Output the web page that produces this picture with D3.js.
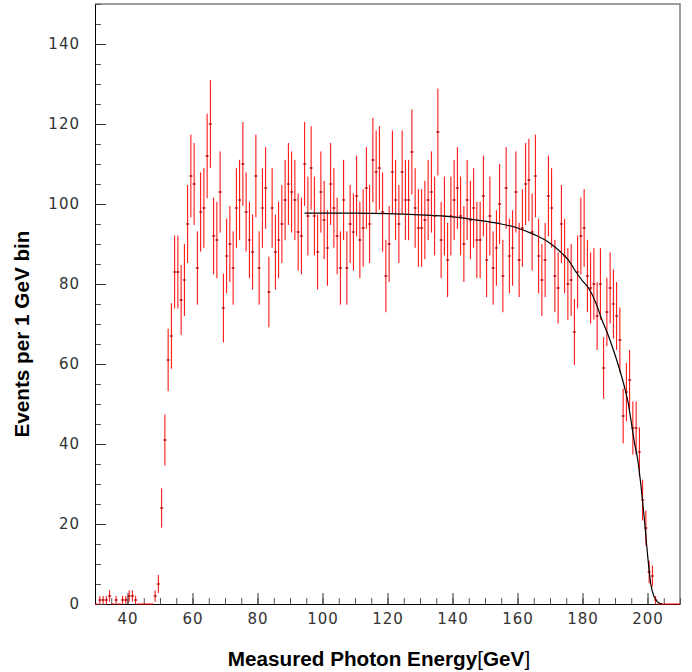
<!DOCTYPE html>
<html lang="en">
<head>
    <meta charset="UTF-8">
    <title>Measured Photon Energy</title>
    <script src="https://d3js.org/d3.v7.min.js"></script>
    <style>
        body { margin: 0; background: #fff; }
        .tick text { font-family: "DejaVu Sans", sans-serif; font-size: 15px; letter-spacing: 1px; fill: #333; }
        .title { font-family: "Liberation Sans", Arial, sans-serif; font-size: 20.7px; font-weight: bold; }
    </style>
</head>
<body>
    <div id="chart"></div>

    <script>
        // events per 1 GeV bin, bins start at 30 GeV
        var binStart = 30;
        var counts = [
            0, 1, 1, 1, 2, 0, 1, 0, 1, 1,
            2, 2, 1, 0, 0, 0, 0, 0, 2, 5,
            24, 41, 61, 67, 83, 83, 76, 81, 95, 107,
            105, 84, 98, 99, 112, 120, 92, 91, 103, 74,
            87, 90, 84, 99, 101, 110, 98, 91, 88, 107,
            84, 99, 104, 78, 99, 88, 91, 95, 101, 105,
            103, 101, 93, 92, 110, 97, 109, 97, 88, 103,
            96, 89, 105, 99, 92, 84, 101, 84, 95, 93,
            102, 91, 94, 104, 95, 111, 108, 109, 98, 82,
            90, 108, 101, 95, 108, 101, 101, 113, 99, 94,
            94, 96, 101, 103, 97, 118, 91, 97, 86, 97,
            101, 104, 97, 90, 101, 96, 99, 91, 91, 102,
            86, 97, 84, 89, 100, 82, 104, 87, 89, 103,
            86, 94, 105, 106, 93, 107, 87, 81, 86, 102,
            99, 82, 79, 95, 87, 80, 81, 68, 83, 92,
            94, 82, 79, 80, 72, 80, 59, 73, 79, 75,
            72, 66, 47, 53, 56, 44, 44, 38, 26, 19,
            8, 7, 1, 0, 0, 0, 0, 0, 0, 0
        ];

        // fitted curve
        var fitEnergy = [94.5, 110, 120, 130, 140, 145, 150, 155, 160, 165, 170, 173, 176, 178, 180, 182, 184, 186, 188, 190, 192, 193, 194, 195, 196, 197, 198, 199, 200, 201, 202, 203, 204.4];
        var fitValue = [97.7, 97.7, 97.6, 97.3, 96.8, 96.3, 95.7, 95.0, 94.0, 92.4, 90.2, 88.2, 85.6, 83.0, 80.8, 78.8, 75.5, 71.0, 67.0, 62.3, 57.0, 54.0, 50.5, 45.5, 40.3, 36.0, 29.5, 21.5, 12.5, 5.0, 1.9, 0.6, 0];

        var xTicks = [40, 60, 80, 100, 120, 140, 160, 180, 200];
        var yTicks = [0, 20, 40, 60, 80, 100, 120, 140];

        var w = 692;
        var h = 672;
        var svg = d3.select("#chart").append("svg")
            .attr("width", w)
            .attr("height", h);

        var x = d3.scaleLinear().domain([30, 210]).range([95, 680]);
        var y = d3.scaleLinear().domain([0, 150]).range([604, 4]);

        var bins = counts.map(function(c, i) {
            return { e: binStart + i, n: c };
        });

        // frame (top and right)
        svg.append("path")
            .attr("d", "M95,4H680V604")
            .attr("fill", "none")
            .attr("stroke", "#808080")
            .attr("stroke-width", 1.5);

        // minor ticks
        svg.append("g")
            .attr("transform", "translate(0,604)")
            .call(d3.axisBottom(x).tickValues(d3.range(30, 211, 5)).tickSizeInner(-6).tickSizeOuter(0).tickFormat(""))
            .call(function(g) { g.select(".domain").remove(); g.selectAll("line").attr("stroke", "#555"); });
        svg.append("g")
            .attr("transform", "translate(95,0)")
            .call(d3.axisLeft(y).tickValues(d3.range(0, 151, 5)).tickSizeInner(-6).tickSizeOuter(0).tickFormat(""))
            .call(function(g) { g.select(".domain").remove(); g.selectAll("line").attr("stroke", "#555"); });

        // major ticks and labels
        svg.append("g")
            .attr("transform", "translate(0,604)")
            .call(d3.axisBottom(x).tickValues(xTicks).tickSizeInner(-11).tickSizeOuter(0).tickPadding(9))
            .call(function(g) { g.select(".domain").attr("stroke", "#000"); g.selectAll("line").attr("stroke", "#333"); });
        svg.append("g")
            .attr("transform", "translate(95,0)")
            .call(d3.axisLeft(y).tickValues(yTicks).tickSizeInner(-11).tickSizeOuter(0).tickPadding(15))
            .call(function(g) { g.select(".domain").attr("stroke", "#000"); g.selectAll("line").attr("stroke", "#333"); });

        // bin width bars
        svg.append("g")
            .selectAll("line")
            .data(bins)
            .enter()
            .append("line")
            .attr("x1", function(d) { return x(d.e); })
            .attr("x2", function(d) { return x(d.e + 1); })
            .attr("y1", function(d) { return y(d.n); })
            .attr("y2", function(d) { return y(d.n); })
            .attr("stroke", "red")
            .attr("stroke-width", 1);

        // error bars
        var filled = bins.filter(function(d) { return d.n > 0; });
        svg.append("g")
            .selectAll("line")
            .data(filled)
            .enter()
            .append("line")
            .attr("x1", function(d) { return x(d.e + 0.5); })
            .attr("x2", function(d) { return x(d.e + 0.5); })
            .attr("y1", function(d) { return y(d.n - Math.sqrt(d.n)); })
            .attr("y2", function(d) { return y(d.n + Math.sqrt(d.n)); })
            .attr("stroke", "red")
            .attr("stroke-width", 1);

        // markers
        svg.append("g")
            .selectAll("rect")
            .data(filled)
            .enter()
            .append("rect")
            .attr("x", function(d) { return x(d.e + 0.5) - 0.75; })
            .attr("y", function(d) { return y(d.n) - 0.5; })
            .attr("width", 1.5)
            .attr("height", 1)
            .attr("fill", "#300");

        // fit
        var line = d3.line()
            .x(function(d, i) { return x(fitEnergy[i]); })
            .y(function(d) { return y(d); })
            .curve(d3.curveMonotoneX);
        svg.append("path")
            .attr("d", line(fitValue))
            .attr("fill", "none")
            .attr("stroke", "#000")
            .attr("stroke-width", 1.2);

        // titles
        var xt = svg.append("text")
            .attr("class", "title")
            .attr("x", 379)
            .attr("y", 666)
            .attr("text-anchor", "middle");
        xt.append("tspan").text("Measured Photon Energy");
        xt.append("tspan").attr("font-weight", "normal").text("[");
        xt.append("tspan").text("GeV");
        xt.append("tspan").attr("font-weight", "normal").text("]");

        svg.append("text")
            .attr("class", "title")
            .attr("transform", "translate(29,334) rotate(-90)")
            .attr("text-anchor", "middle")
            .text("Events per 1 GeV bin");
    </script>
</body>
</html>
